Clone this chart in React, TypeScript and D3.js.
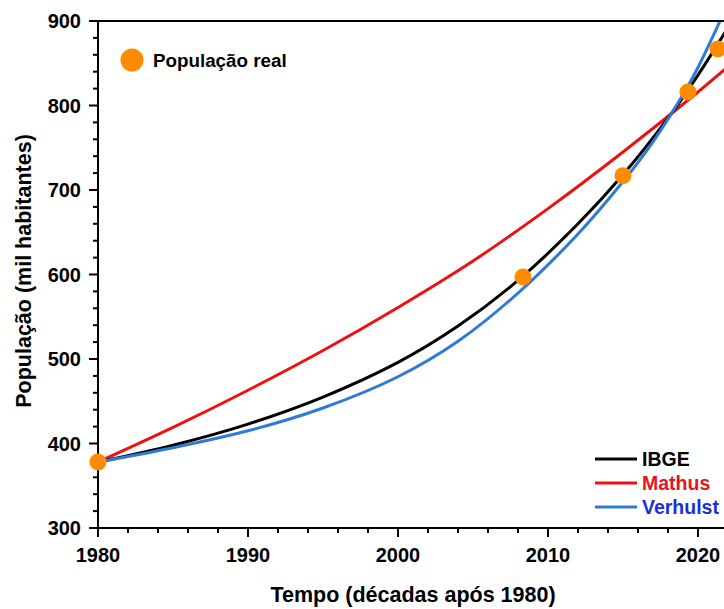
import React from "react";
import * as d3 from "d3";

const W = 724;
const H = 609;

const realYears = [1980, 2008.33, 2015, 2019.33, 2021.33];
const realPop = [378, 597, 717, 816, 867];

const ibgeYears = [1980, 1985, 1990, 1995, 2000, 2004, 2008, 2012, 2015, 2018, 2020, 2022];
const ibgeValues = [378, 398, 423, 455, 496, 539, 593, 660, 718, 785, 836, 892];

const mathusYears = [1980, 1985, 1990, 1995, 2000, 2005, 2010, 2015, 2020, 2022];
const mathusValues = [378, 419, 463, 510, 561, 616, 678, 745, 816, 846];

const verhulstYears = [1980, 1985, 1990, 1995, 2000, 2004, 2008, 2012, 2015, 2017, 2019, 2020, 2021, 2022];
const verhulstValues = [378, 395, 415, 442, 479, 521, 578, 648, 710, 757, 813, 845, 882, 921];

const xTicks = [1980, 1990, 2000, 2010, 2020];
const yTicks = [300, 400, 500, 600, 700, 800, 900];

const seriesNames = ["IBGE", "Mathus", "Verhulst"];
const lineColors = ["#000000", "#ee1111", "#2f7ad6"];
const textColors = ["#000000", "#e8141c", "#1c2ed8"];

const FONT = "'Liberation Sans', Arial, sans-serif";

export default function App() {
  const left = 98, top = 21, bottom = 528;
  const x = d3.scaleLinear().domain([1980, 2022]).range([left, left + 42 * 15]);
  const y = d3.scaleLinear().domain([300, 900]).range([bottom, top]);

  const line = d3
    .line<[number, number]>()
    .x((d) => x(d[0]))
    .y((d) => y(d[1]))
    .curve(d3.curveCatmullRom.alpha(0.5));

  const series = [
    ibgeYears.map((yr, i) => [yr, ibgeValues[i]] as [number, number]),
    mathusYears.map((yr, i) => [yr, mathusValues[i]] as [number, number]),
    verhulstYears.map((yr, i) => [yr, verhulstValues[i]] as [number, number]),
  ];
  const drawOrder = [1, 0, 2];

  const xMinor = d3.range(1980, 2023, 2).filter((v) => v % 10 !== 0);
  const yMinor = d3.range(300, 901, 20).filter((v) => v % 100 !== 0);

  return (
    <svg
      width={W}
      height={H}
      style={{ position: "absolute", left: 0, top: 0, background: "#fff" }}
      fontFamily={FONT}
    >
      <rect x={0} y={0} width={W} height={H} fill="#fff" />
      <defs>
        <clipPath id="plotClip">
          <rect x={left} y={top} width={W - left + 10} height={bottom - top} />
        </clipPath>
      </defs>

      {/* curves */}
      <g clipPath="url(#plotClip)">
        {drawOrder.map((si) => (
          <path
            key={si}
            d={line(series[si]) || ""}
            fill="none"
            stroke={lineColors[si]}
            strokeWidth={3}
          />
        ))}
      </g>

      {/* axes */}
      <line x1={left} x2={W} y1={top} y2={top} stroke="#000" strokeWidth={2} />
      <line x1={left} x2={left} y1={top - 1} y2={bottom + 1} stroke="#000" strokeWidth={2} />
      <line x1={left - 1} x2={W} y1={bottom} y2={bottom} stroke="#000" strokeWidth={2} />

      {yTicks.map((v) => (
        <g key={"y" + v}>
          <line x1={left - 9} x2={left} y1={y(v)} y2={y(v)} stroke="#000" strokeWidth={2} />
          <text
            x={left - 17}
            y={y(v)}
            dy="0.36em"
            textAnchor="end"
            fontSize={20}
            fontWeight="bold"
          >
            {v}
          </text>
        </g>
      ))}
      {yMinor.map((v) => (
        <line key={"ym" + v} x1={left - 5} x2={left} y1={y(v)} y2={y(v)} stroke="#000" strokeWidth={2} />
      ))}

      {xTicks.map((v) => (
        <g key={"x" + v}>
          <line x1={x(v)} x2={x(v)} y1={bottom} y2={bottom + 9} stroke="#000" strokeWidth={2} />
          <text x={x(v)} y={bottom + 34} textAnchor="middle" fontSize={20} fontWeight="bold">
            {v}
          </text>
        </g>
      ))}
      {xMinor.map((v) => (
        <line key={"xm" + v} x1={x(v)} x2={x(v)} y1={bottom} y2={bottom + 5} stroke="#000" strokeWidth={2} />
      ))}

      {/* axis titles */}
      <text x={413} y={602} textAnchor="middle" fontSize={21.5} fontWeight="bold">
        Tempo (décadas após 1980)
      </text>
      <text
        transform={`translate(31, 271) rotate(-90)`}
        textAnchor="middle"
        fontSize={21.5}
        fontWeight="bold"
      >
        População (mil habitantes)
      </text>

      {/* data points */}
      {realYears.map((yr, i) => (
        <circle key={"p" + i} cx={x(yr)} cy={y(realPop[i])} r={8.5} fill="#ff8c00" />
      ))}

      {/* top-left legend */}
      <circle cx={132} cy={60} r={11.5} fill="#ff8c00" />
      <text x={153} y={60} dy="0.36em" fontSize={18.8} fontWeight="bold">
        População real
      </text>

      {/* bottom-right legend */}
      {seriesNames.map((name, i) => (
        <g key={name}>
          <line
            x1={595}
            x2={637}
            y1={459 + i * 24}
            y2={459 + i * 24}
            stroke={lineColors[i]}
            strokeWidth={3}
          />
          <text
            x={642}
            y={459 + i * 24}
            dy="0.36em"
            fontSize={19.5}
            fontWeight="bold"
            fill={textColors[i]}
          >
            {name}
          </text>
        </g>
      ))}
    </svg>
  );
}
